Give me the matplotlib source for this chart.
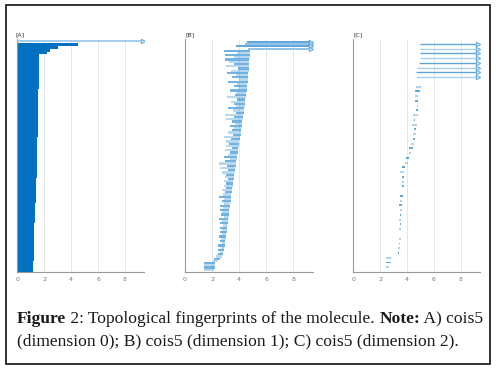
import matplotlib.pyplot as plt
from matplotlib.patches import Rectangle

# [A] dimension 0: every bar is born at 0, deaths listed bottom -> top
a_death = [1.19, 1.19, 1.20, 1.20, 1.21, 1.21, 1.22, 1.22, 1.23, 1.23,
           1.24, 1.24, 1.25, 1.25, 1.26, 1.27, 1.27, 1.28, 1.29, 1.30,
           1.31, 1.32, 1.33, 1.35, 1.37, 1.38, 1.39, 1.40, 1.40, 1.41,
           1.41, 1.42, 1.42, 1.43, 1.43, 1.44, 1.44, 1.45, 1.45, 1.46,
           1.46, 1.47, 1.47, 1.48, 1.48, 1.49, 1.49, 1.50, 1.50, 1.51,
           1.51, 1.52, 1.52, 1.53, 1.53, 1.54, 1.54, 1.55, 1.55, 1.56,
           1.56, 1.57, 1.57, 1.57, 1.58, 1.58, 1.58, 1.59, 1.59, 1.59,
           1.60, 1.60, 1.60, 1.61, 1.61, 1.61, 2.20, 2.45, 3.00, 4.50]
a_inf_birth = [0.0]

# [B] dimension 1, listed top -> bottom
b_inf_birth = [4.55, 4.40, 3.75, 4.62]
b_death = [4.83, 4.80, 4.78, 4.80, 4.75, 4.76, 4.73, 4.74, 4.72, 4.70,
           4.68, 4.66, 4.65, 4.63, 4.62, 4.60, 4.58, 4.57, 4.55, 4.52,
           4.50, 4.48, 4.46, 4.44, 4.42, 4.40, 4.37, 4.35, 4.33, 4.30,
           4.28, 4.26, 4.24, 4.21, 4.19, 4.17, 4.14, 4.12, 4.10, 4.07,
           4.05, 4.02, 4.00, 3.97, 3.95, 3.92, 3.90, 3.87, 3.85, 3.82,
           3.80, 3.77, 3.74, 3.72, 3.69, 3.67, 3.64, 3.62, 3.60, 3.57,
           3.55, 3.52, 3.50, 3.47, 3.45, 3.43, 3.40, 3.38, 3.36, 3.34,
           3.32, 3.30, 3.28, 3.26, 3.24, 3.22, 3.20, 3.18, 3.15, 3.13,
           3.11, 3.09, 3.07, 3.04, 3.02, 3.00, 2.98, 2.95, 2.93, 2.90,
           2.87, 2.83, 2.78, 2.72, 2.55, 2.40, 2.23, 2.20, 2.18, 2.15]
b_birth = [2.85, 3.85, 2.97, 3.60, 2.92, 3.25, 3.60, 3.00, 3.90, 3.40,
           3.10, 3.75, 3.45, 4.00, 3.20, 3.85, 3.60, 3.95, 3.30, 3.80,
           3.70, 3.10, 3.85, 3.40, 3.60, 3.80, 3.20, 3.55, 3.75, 2.97,
           3.60, 3.05, 3.50, 3.70, 3.35, 3.60, 3.45, 3.20, 3.55, 2.85,
           3.40, 3.00, 3.25, 3.05, 3.50, 2.95, 3.30, 3.15, 2.90, 3.30,
           2.95, 2.48, 3.10, 2.60, 3.15, 2.70, 3.05, 2.95, 3.15, 2.90,
           3.00, 2.85, 3.05, 2.75, 2.95, 2.80, 2.48, 2.90, 2.70, 2.85,
           2.60, 2.80, 2.55, 2.75, 2.65, 2.85, 2.50, 2.70, 2.60, 2.80,
           2.60, 2.75, 2.55, 2.70, 2.50, 2.65, 2.60, 2.70, 2.45, 2.65,
           2.45, 2.55, 2.40, 2.30, 2.15, 2.10, 1.42, 1.42, 1.42, 1.42]

# [C] dimension 2, listed top -> bottom
c_inf_birth = [4.95, 4.95, 4.95, 4.95, 4.90, 4.75, 4.70, 4.66]
c_birth = [4.94, 4.70, 4.58, 4.61, 4.61, 4.73, 4.68, 4.46, 4.55, 4.36,
           4.53, 4.48, 4.43, 4.31, 4.16, 4.16, 3.91, 3.84, 3.62, 3.47,
           3.62, 3.59, 3.62, 3.60, 3.47, 3.49, 3.39, 3.47, 3.49, 3.37,
           3.47, 3.37, 3.44, 3.37, 3.37, 3.30, 3.32, 2.43, 2.43, 2.40]
c_death = [4.97, 5.02, 4.95, 4.85, 4.85, 4.83, 4.78, 4.78, 4.56, 4.73,
           4.68, 4.66, 4.58, 4.51, 4.43, 4.26, 4.14, 4.09, 3.82, 3.79,
           3.77, 3.77, 3.74, 3.61, 3.72, 3.59, 3.62, 3.59, 3.54, 3.57,
           3.52, 3.54, 3.49, 3.52, 3.47, 3.47, 3.37, 2.80, 2.78, 2.68]

xmax = 9.43
inf_end = 9.3
ticks = [0, 2, 4, 6, 8]

W, H = 496, 373
fig = plt.figure(figsize=(W / 100, H / 100), dpi=100)


def px_axes(x0, y_top, y_bot, width):
    return fig.add_axes([x0 / W, 1 - y_bot / H, width / W, (y_bot - y_top) / H])


def style(ax):
    ax.set_xlim(0, xmax)
    ax.set_xticks(ticks)
    ax.set_yticks([])
    ax.tick_params(axis='x', length=0, labelsize=4.5, labelcolor='#777777', pad=3.5)
    for s in ['top', 'right']:
        ax.spines[s].set_visible(False)
    for s in ['bottom', 'left']:
        ax.spines[s].set_color('#999999')
        ax.spines[s].set_linewidth(0.8)
    for x in ticks[1:]:
        ax.axvline(x, color='#e6e6e6', lw=0.7, zorder=0)


def inf_bars(ax, ys, births, colors, lw):
    for i, (y, b) in enumerate(zip(ys, births)):
        ax.plot([b, inf_end], [y, y], color=colors[i % len(colors)], lw=lw,
                solid_capstyle='butt', zorder=3)
        ax.plot([inf_end], [y], marker='>', ms=3.2, mfc='#d6e8f6', mec='#4f9fd9', mew=0.6, zorder=4)


# panel A
axA = px_axes(17.3, 39, 272, 127)
style(axA)
nA = len(a_death)
axA.barh(range(nA), a_death, left=0, height=1.0, color='#0070c0', lw=0, zorder=2)
inf_bars(axA, [nA + 0.2], a_inf_birth, ['#8cc0ea'], 1.1)
axA.set_ylim(-0.5, nA + 0.9)

# panel B
axB = px_axes(185, 39, 272, 127.7)
style(axB)
nB = len(b_death)
yB = [nB - 1 - i for i in range(nB)]
wB = [d - b for b, d in zip(b_birth, b_death)]
alphas = [0.8 if i % 2 == 0 else 0.4 for i in range(nB)]
for y, b, w, a in zip(yB, b_birth, wB, alphas):
    axB.barh(y, w, left=b, height=1.0, color='#4f9fd9', alpha=a, lw=0, zorder=2)
inf_bars(axB, [nB + 3 - i for i in range(len(b_inf_birth))], b_inf_birth,
         ['#5ea6dc', '#8fc3ea'], 1.4)
axB.set_ylim(-1, nB + 4.3)

# panel C
axC = px_axes(353.3, 39, 272, 126.7)
style(axC)
nC = len(c_death)
yC = [nC - 1 - i for i in range(nC)]
wC = [d - b for b, d in zip(c_birth, c_death)]
alphasC = [0.9 if i % 2 == 0 else 0.45 for i in range(nC)]
for y, b, w, a in zip(yC, c_birth, wC, alphasC):
    axC.barh(y, w, left=b, height=0.4, color='#4f9fd9', alpha=a, lw=0, zorder=2)
inf_bars(axC, [nC + len(c_inf_birth) - 1 - i for i in range(len(c_inf_birth))],
         c_inf_birth, ['#5ea6dc', '#a9cfee'], 1.0)
axC.set_ylim(-1, nC + len(c_inf_birth))

# panel labels
for lab, x in [('[A]', 16), ('[B]', 185), ('[C]', 354)]:
    fig.text(x / W, 1 - 35 / H, lab, fontsize=4.5, va='center', ha='left', color='#333333')

# caption with mixed weights
renderer = fig.canvas.get_renderer()
cap_font = dict(family='Liberation Serif', fontsize=12.6, va='center', color='#1a1a1a')


def rich_line(x, y, parts):
    for txt, wt in parts:
        t = fig.text(x, y, txt, fontweight=wt, **cap_font)
        x += t.get_window_extent(renderer).width / fig.bbox.width


rich_line(17 / W, 1 - 319 / H, [('Figure', 'bold'), (' 2: Topological fingerprints of the molecule. ', 'normal'),
                                 ('Note:', 'bold'), (' A) cois5', 'normal')])
rich_line(17 / W, 1 - 341 / H, [('(dimension 0); B) cois5 (dimension 1); C) cois5 (dimension 2).', 'normal')])

# frame around the whole figure
fig.add_artist(Rectangle((6 / W, 1 - 364 / H), 484 / W, 359 / H, transform=fig.transFigure,
                         fill=False, ec='#222222', lw=1.3))

fig.savefig('out.png', dpi=100)
